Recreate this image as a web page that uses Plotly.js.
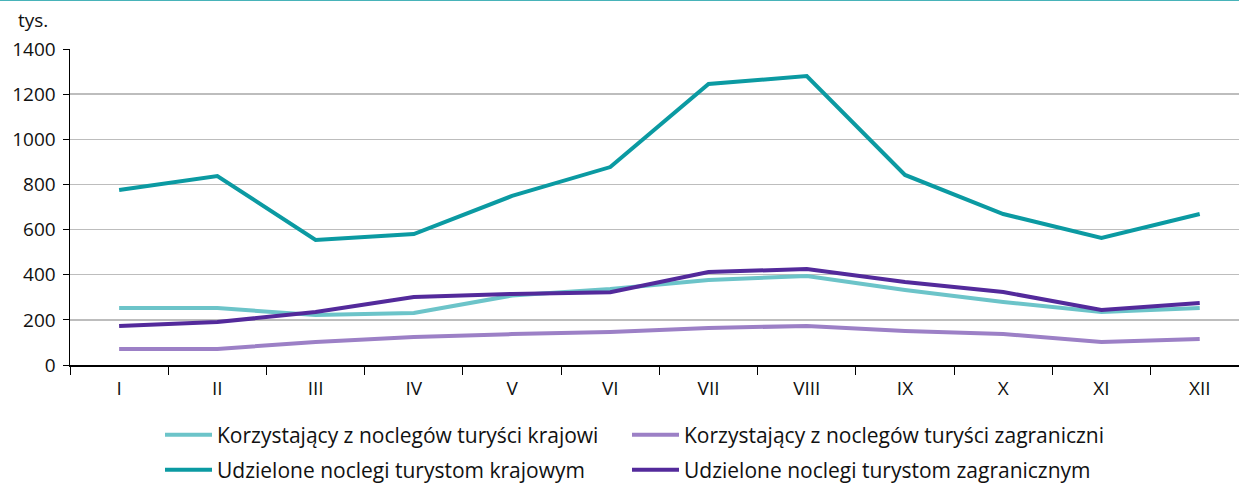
<!DOCTYPE html>
<html><head><meta charset="utf-8">
<script src="https://cdn.plot.ly/plotly-3.0.1.min.js"></script>
<style>html,body{margin:0;padding:0;background:#fff;}#chart{width:1239px;height:483px;}</style>
</head><body><div id="chart"></div>
<script>
var months = ["I","II","III","IV","V","VI","VII","VIII","IX","X","XI","XII"];
var korzystajacyKrajowi = [252, 252, 222, 230, 308, 337, 377, 394, 332, 279, 235, 252];
var korzystajacyZagraniczni = [71, 71, 102, 124, 137, 146, 164, 173, 151, 137, 102, 115];
var udzieloneKrajowym = [775, 837, 554, 580, 749, 877, 1245, 1280, 842, 669, 563, 669];
var udzieloneZagranicznym = [173, 190, 235, 301, 315, 322, 412, 425, 368, 323, 244, 275];
var names = ["Korzystający z noclegów turyści krajowi","Korzystający z noclegów turyści zagraniczni","Udzielone noclegi turystom krajowym","Udzielone noclegi turystom zagranicznym"];
var colors = ["#6cc4c9","#9c80c6","#0b9aa2","#532a9b"];
var series = [korzystajacyKrajowi, korzystajacyZagraniczni, udzieloneKrajowym, udzieloneZagranicznym];
var legendIds = ["legend","legend2","legend3","legend4"];
var font = "'Open Sans', sans-serif";
var traces = series.map(function(s,i){
  return {x: months, y: s, type:"scatter", mode:"lines", name: names[i],
    legend: legendIds[i], line:{color: colors[i], width: 4}};
});
function leg(x, y){
  return {orientation:"h", x:x, xanchor:"left", y:y, yref:"container", yanchor:"middle",
    traceorder:"normal", font:{family:font, size:21, color:"#111"}, itemwidth:47,
    bgcolor:"rgba(0,0,0,0)"};
}
var col1 = (160 - 70) / 1169, col2 = (627 - 70) / 1169;
var row1 = 1 - 435 / 483, row2 = 1 - 470 / 483;
var layout = {
  width:1239, height:483,
  margin:{l:70, r:0, t:49, b:118, autoexpand:false},
  paper_bgcolor:"#fff", plot_bgcolor:"#fff",
  font:{family:font, size:19, color:"#111"},
  showlegend:true,
  legend: leg(col1, row1),
  legend2: leg(col2, row1),
  legend3: leg(col1, row2),
  legend4: leg(col2, row2),
  xaxis:{type:"category", range:[-0.5, 11.4], showgrid:false, showline:true,
    linecolor:"#000", linewidth:1.5, ticks:"outside", ticklen:8, tickcolor:"#000",
    tickson:"boundaries", tickfont:{family:font, size:19}, zeroline:false, fixedrange:true, ticklabelstandoff:6},
  yaxis:{range:[0,1400], dtick:200, showgrid:true, gridcolor:"#bdbdbd", gridwidth:1.5,
    showline:true, linecolor:"#000", linewidth:1.5, ticks:"outside", ticklen:6,
    tickcolor:"#000", tickfont:{family:font, size:19}, zeroline:false, ticklabelstandoff:3, fixedrange:true},
  shapes:[{type:"line", xref:"paper", yref:"paper", x0:-0.06, x1:1, y0:1.155, y1:1.155,
    line:{color:"#0b9aa2", width:1.5}}],
  annotations:[{text:"tys.", xref:"paper", yref:"paper", x:-0.017, y:1.045, xanchor:"right",
    yanchor:"bottom", showarrow:false, font:{family:font, size:19, color:"#111"}}]
};
Plotly.newPlot("chart", traces, layout, {displayModeBar:false, staticPlot:true});
</script></body></html>
